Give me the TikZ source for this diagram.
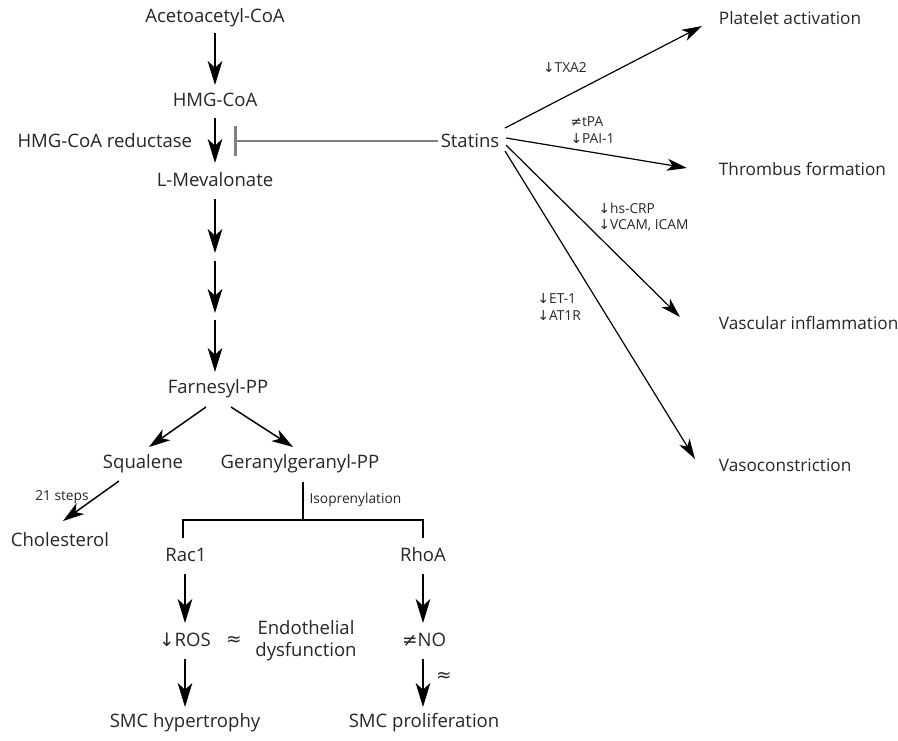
\documentclass[tikz,border=0pt]{standalone}
\usepackage{fontspec}
\setmainfont{Open Sans}
\newfontfamily\symfont{DejaVu Sans}
\usetikzlibrary{arrows.meta}
\newcommand{\dn}{{\symfont ↓}}
\newcommand{\nq}{{\symfont ≠}}
\newcommand{\apx}{{\symfont ≈}}
\begin{document}
\begin{tikzpicture}[x=0.75pt,y=-0.75pt,
  lbl/.style={font=\fontsize{13.9}{16.5}\selectfont, text=black!85, inner sep=2pt},
  rlbl/.style={font=\fontsize{12.9}{15.5}\selectfont, text=black!85, inner sep=2pt, anchor=west},
  sm/.style={font=\fontsize{10.3}{12.5}\selectfont, text=black!85, inner sep=1pt, align=left},
  varr/.style={line width=1.1pt, -{Stealth[length=18pt,width=11pt,inset=5pt]}},
  darr/.style={line width=1.1pt, -{Stealth[length=16pt,width=10pt,inset=4.5pt]}},
  rarr/.style={line width=0.9pt, -{Stealth[length=15pt,width=9pt,inset=4pt]}},
  plain/.style={line width=0.8pt},
  inhib/.style={line width=1.9pt, draw=black!50, -{Bar[width=22pt,line width=1.9pt]}}
]
\useasboundingbox (0,0) rectangle (898,740);

% left column nodes
\node[lbl] (acac) at (215,18) {Acetoacetyl-CoA};
\node[lbl] (hmg) at (215,100) {HMG-CoA};
\node[lbl,anchor=east] (red) at (195,141) {HMG-CoA reductase};
\node[lbl] (statins) at (470,141) {Statins};
\node[lbl] (mev) at (215,180) {L-Mevalonate};
\node[lbl] (farn) at (218,389) {Farnesyl-PP};
\node[lbl] (squal) at (143,464) {Squalene};
\node[lbl] (ggpp) at (300,464) {Geranylgeranyl-PP};
\node[lbl] (chol) at (60,540) {Cholesterol};
\node[lbl] (rac) at (186,555) {Rac1};
\node[lbl] (rhoa) at (423,555) {RhoA};
\node[lbl] (ros) at (185,640) {\dn ROS};
\node[lbl] (no) at (424,640) {\nq NO};
\node[lbl,align=center] (endo) at (306,641) {Endothelial\\dysfunction};
\node[lbl] (apx1) at (234,641) {\apx};
\node[lbl] (smch) at (185,723) {SMC hypertrophy};
\node[lbl] (smcp) at (424,723) {SMC proliferation};

% right column nodes
\node[rlbl] (plat) at (716,18) {Platelet activation};
\node[rlbl] (thromb) at (716,169) {Thrombus formation};
\node[rlbl] (vasc) at (716,323) {Vascular inflammation};
\node[rlbl] (vaso) at (716,465) {Vasoconstriction};

% small labels
\node[sm] (txa) at (565,68) {\dn TXA2};
\node[sm,anchor=west] (tpa) at (569,130) {\nq tPA\\\dn PAI-1};
\node[sm,anchor=west] (crp) at (597,217) {\dn hs-CRP\\\dn VCAM, ICAM};
\node[sm,anchor=west] (et) at (536,307) {\dn ET-1\\\dn AT1R};
\node[sm] (steps) at (62,497) {21 steps};
\node[sm,anchor=west] (iso) at (308,500) {Isoprenylation};
\node[lbl] (apx2) at (444,677) {\apx};

% coordinates
\coordinate (a1) at (215,33);  \coordinate (a2) at (215,85);
\coordinate (b1) at (215,118); \coordinate (b2) at (215,163);
\coordinate (m1) at (215,199); \coordinate (m2) at (215,253);
\coordinate (m3) at (215,261); \coordinate (m4) at (215,313);
\coordinate (m5) at (215,320); \coordinate (m6) at (215,372);
\coordinate (f1) at (206,407); \coordinate (f2) at (149,447);
\coordinate (g1) at (231,407); \coordinate (g2) at (293,447);
\coordinate (c1) at (119,481); \coordinate (c2) at (63,521);
\coordinate (r1) at (185,574); \coordinate (r2) at (185,623);
\coordinate (r3) at (185,659); \coordinate (r4) at (185,707);
\coordinate (h1) at (423,574); \coordinate (h2) at (423,623);
\coordinate (h3) at (423,659); \coordinate (h4) at (423,707);
\coordinate (inh) at (234,141);
\coordinate (s1) at (505,128);
\coordinate (s2) at (506,138);
\coordinate (s3) at (506,145);
\coordinate (s4) at (505,151);
\coordinate (t1) at (702,26);
\coordinate (t2) at (687,168);
\coordinate (t3) at (680,317);
\coordinate (t4) at (695,459);
\coordinate (isotop) at (303,482);
\coordinate (isobot) at (303,520);
\coordinate (bl) at (183,520);
\coordinate (br) at (423,520);
\coordinate (blb) at (183,538);
\coordinate (brb) at (423,538);

% left column arrows
\draw[varr] (a1) -- (a2);
\draw[varr] (b1) -- (b2);
\draw[varr] (m1) -- (m2);
\draw[varr] (m3) -- (m4);
\draw[varr] (m5) -- (m6);
\draw[darr] (f1) -- (f2);
\draw[darr] (g1) -- (g2);
\draw[darr] (c1) -- (c2);
\draw[inhib] (statins.west) -- (inh);

\draw[plain] (isotop) -- (isobot);
\draw[plain] (blb) -- (bl) -- (br) -- (brb);

\draw[varr] (r1) -- (r2);
\draw[varr] (r3) -- (r4);
\draw[varr] (h1) -- (h2);
\draw[varr] (h3) -- (h4);

% statins arrows
\draw[rarr] (s1) -- (t1);
\draw[rarr] (s2) -- (t2);
\draw[rarr] (s3) -- (t3);
\draw[rarr] (s4) -- (t4);
\end{tikzpicture}
\end{document}
